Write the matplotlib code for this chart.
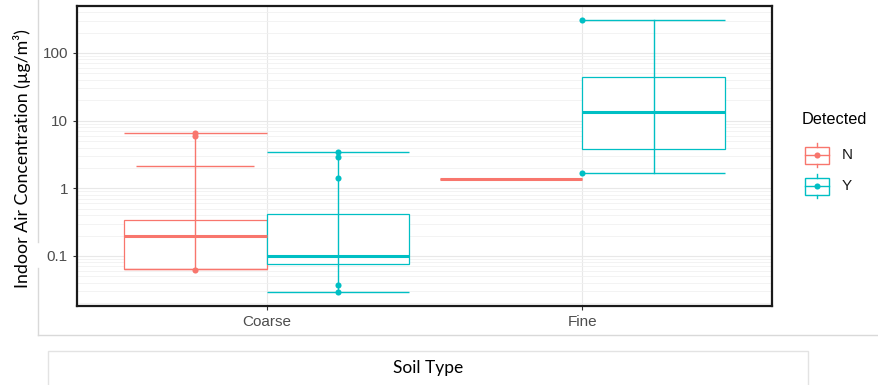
import matplotlib
matplotlib.use("Agg")
import matplotlib.pyplot as plt
from matplotlib.patches import Rectangle
from matplotlib.ticker import LogLocator, FixedLocator, NullFormatter

# ---------------- data ----------------
categories = ["Coarse", "Fine"]
groups = ["N", "Y"]
colors = {"N": "#F8766D", "Y": "#00BFC4"}

# box statistics per (category, group)
box_cat = ["Coarse", "Coarse", "Fine", "Fine"]
box_grp = ["N", "Y", "N", "Y"]
box_q1 = [0.065, 0.075, 1.36, 3.86]
box_med = [0.20, 0.10, 1.36, 13.6]
box_q3 = [0.34, 0.41, 1.36, 44.7]

# whisker (vertical line) ranges
whisk_lo = [0.063, 0.029, 1.36, 1.68]
whisk_hi = [6.5, 3.44, 1.36, 307]

# error-bar caps: (box index, value, relative width)
cap_box = [0, 0, 0, 1, 1, 2, 3, 3]
cap_val = [6.5, 2.1, 0.065, 3.44, 0.029, 1.36, 307, 1.68]
cap_wid = [1.0, 0.83, 1.0, 1.0, 1.0, 1.0, 1.0, 1.0]

# observed points: (box index, value, dodged?)
pt_box = [0, 0, 0, 1, 1, 1, 1, 1, 3, 3]
pt_val = [6.5, 5.9, 0.063, 3.4, 2.9, 1.4, 0.037, 0.029, 307, 1.68]
pt_dodge = [True, True, True, True, True, True, True, True, False, False]

ytick_vals = [0.1, 1, 10, 100]
ytick_labels = ["0.1", "1", "10", "100"]

SANS = ["Liberation Sans", "DejaVu Sans"]
LATO = ["Lato", "DejaVu Sans"]

# ---------------- figure ----------------
W, H = 879, 385
fig = plt.figure(figsize=(W / 100, H / 100), dpi=100)
fig.patch.set_facecolor("white")

# overlay for screenshot decoration (behind)
ov = fig.add_axes([0, 0, 1, 1], zorder=0)
ov.set_xlim(0, W)
ov.set_ylim(H, 0)
ov.axis("off")
frame_c = "#d9d9d9"
ov.plot([38.5, 38.5], [0, 242], color=frame_c, lw=1)
ov.plot([38.5, 38.5], [268, 335], color=frame_c, lw=1)
ov.plot([38.5, W], [335, 335], color=frame_c, lw=1)
ov.add_patch(Rectangle((48.5, 350.5), 760, 60, facecolor="white",
                       edgecolor="#e3e3e3", lw=1))
ov.text(428, 368, "Soil Type", ha="center", va="center", fontsize=12.5,
        family=LATO, color="black")

# main panel
ax = fig.add_axes([77 / W, 1 - 306 / H, (772 - 77) / W, 300 / H], zorder=1)
ax.set_yscale("log")
ax.set_xlim(0.4, 2.6)
ax.set_ylim(0.0182, 494)
ax.set_facecolor("white")

ax.yaxis.set_major_locator(FixedLocator(ytick_vals))
ax.set_yticklabels(ytick_labels)
ax.yaxis.set_minor_locator(LogLocator(base=10, subs=range(2, 10), numticks=20))
ax.yaxis.set_minor_formatter(NullFormatter())
ax.set_xticks(range(1, len(categories) + 1))
ax.set_xticklabels(categories)
ax.tick_params(axis="both", which="major", length=3, width=0.8, color="#333333",
               labelcolor="#4d4d4d", labelsize=11)
for lab in ax.get_xticklabels() + ax.get_yticklabels():
    lab.set_family(SANS)
ax.tick_params(axis="y", which="minor", length=0)
ax.grid(True, which="major", axis="both", color="#e8e8e8", lw=0.8)
ax.grid(True, which="minor", axis="y", color="#f1f1f1", lw=0.6)
ax.set_axisbelow(True)
for s in ax.spines.values():
    s.set_color("#1a1a1a")
    s.set_linewidth(1.6)

half = 0.45

def slot(i):
    c = categories.index(box_cat[i]) + 1
    if box_grp[i] == "N":
        return c - half, c
    return c, c + half

# boxes
for i in range(len(box_cat)):
    x0, x1 = slot(i)
    col = colors[box_grp[i]]
    if box_q3[i] > box_q1[i]:
        ax.add_patch(Rectangle((x0, box_q1[i]), x1 - x0, box_q3[i] - box_q1[i],
                               facecolor="white", edgecolor=col, lw=0.9, zorder=2))
    ax.plot([x0, x1], [box_med[i], box_med[i]], color=col, lw=2.2,
            solid_capstyle="butt", zorder=3)

# caps
for b, v, wf in zip(cap_box, cap_val, cap_wid):
    x0, x1 = slot(b)
    cx, hw = (x0 + x1) / 2, (x1 - x0) / 2 * wf
    ax.plot([cx - hw, cx + hw], [v, v], color=colors[box_grp[b]], lw=1.0,
            solid_capstyle="butt", zorder=3)

# whisker verticals
for i in range(len(box_cat)):
    if whisk_hi[i] > whisk_lo[i]:
        x0, x1 = slot(i)
        cx = (x0 + x1) / 2
        ax.plot([cx, cx], [whisk_lo[i], whisk_hi[i]], color=colors[box_grp[i]],
                lw=1.0, zorder=4)

# points
for b, v, d in zip(pt_box, pt_val, pt_dodge):
    x0, x1 = slot(b)
    cx = (x0 + x1) / 2 if d else categories.index(box_cat[b]) + 1
    ax.plot([cx], [v], "o", color=colors[box_grp[b]], ms=4.4, mec="none", zorder=5)

# y label
fig.text(22 / W, 1 - 159 / H, "Indoor Air Concentration (µg/m³)", rotation=90,
         ha="center", va="center", fontsize=12.8, family=LATO, color="black")

# legend (drawn on overlay in pixel space)
lg = fig.add_axes([0, 0, 1, 1], zorder=2)
lg.set_xlim(0, W)
lg.set_ylim(H, 0)
lg.axis("off")
lg.text(802, 120, "Detected", ha="left", va="center", fontsize=11.7,
        family=SANS, color="black")
for g, yc in zip(groups, [155, 186]):
    col = colors[g]
    lg.add_patch(Rectangle((805, yc - 8.5), 24, 17, facecolor="white",
                           edgecolor=col, lw=1.0))
    lg.plot([817, 817], [yc - 12, yc - 8.5], color=col, lw=1.0)
    lg.plot([817, 817], [yc + 8.5, yc + 12], color=col, lw=1.0)
    lg.plot([805, 829], [yc, yc], color=col, lw=1.0)
    lg.plot([817], [yc], "o", color=col, ms=4.4, mec="none")
    lg.text(842, yc, g, ha="left", va="center", fontsize=11, family=SANS,
            color="#1a1a1a")

fig.savefig("out.png", dpi=100, facecolor="white")
